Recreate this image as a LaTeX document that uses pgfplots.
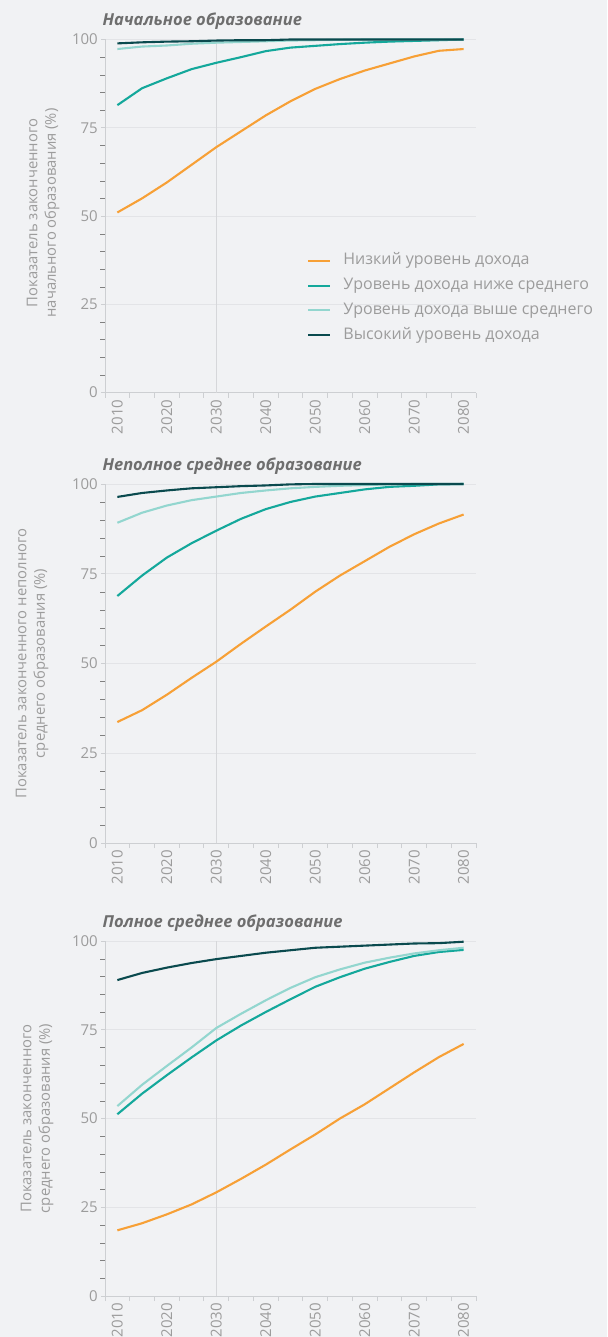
\documentclass[border=0pt]{standalone}
\usepackage{fontspec}
\setmainfont{Open Sans}
\usepackage{pgfplots}
\pgfplotsset{compat=1.18}
\definecolor{bg}{HTML}{F1F2F4}
\definecolor{cLow}{HTML}{F7A036}
\definecolor{cLM}{HTML}{14A89B}
\definecolor{cUM}{HTML}{93D6CF}
\definecolor{cHigh}{HTML}{0A4A4E}
\definecolor{axgray}{HTML}{CDCFD2}
\definecolor{gridgray}{HTML}{E3E4E7}
\definecolor{vgrid}{HTML}{D6D7DA}
\definecolor{txtgray}{HTML}{9C9C9C}
\definecolor{ttlgray}{HTML}{6E6E6E}

\pgfplotstableread{
year low lm um high
2010 51.0 81.4 97.3 98.9
2015 55.0 86.2 98.0 99.2
2020 59.5 89.0 98.3 99.4
2025 64.5 91.6 98.8 99.5
2030 69.5 93.4 99.1 99.7
2035 74.0 95.0 99.3 99.8
2040 78.5 96.7 99.5 99.8
2045 82.5 97.7 99.7 100
2050 86.0 98.2 99.8 100
2055 88.8 98.7 99.9 100
2060 91.2 99.1 100 100
2065 93.2 99.4 100 100
2070 95.2 99.6 100 100
2075 96.8 99.8 100 100
2080 97.3 100 100 100
}\primary

\pgfplotstableread{
year low lm um high
2010 33.7 68.8 89.2 96.4
2015 37.0 74.5 92.0 97.5
2020 41.3 79.5 94.0 98.2
2025 46.0 83.5 95.5 98.8
2030 50.5 87.0 96.5 99.1
2035 55.5 90.3 97.5 99.4
2040 60.3 93.0 98.2 99.6
2045 65.0 95.0 98.8 99.9
2050 70.0 96.5 99.2 100
2055 74.5 97.5 99.5 100
2060 78.5 98.5 99.7 100
2065 82.5 99.2 99.9 100
2070 86.0 99.5 100 100
2075 89.0 99.9 100 100
2080 91.5 100 100 100
}\lowersec

\pgfplotstableread{
year low lm um high
2010 18.5 51.2 53.5 89.0
2015 20.5 57.0 59.5 91.0
2020 23.0 62.2 64.8 92.5
2025 25.8 67.2 70.0 93.8
2030 29.2 72.0 75.5 94.9
2035 33.0 76.2 79.5 95.8
2040 37.0 80.0 83.3 96.7
2045 41.3 83.6 86.8 97.4
2050 45.5 87.1 89.8 98.1
2055 50.0 89.8 92.0 98.4
2060 54.0 92.2 93.9 98.7
2065 58.5 94.1 95.3 99.0
2070 63.0 95.8 96.5 99.3
2075 67.3 96.9 97.4 99.4
2080 71.0 97.5 98.1 99.8
}\uppersec

\pgfplotsset{
  panel/.style={
    scale only axis, width=371pt,
    xmin=2007.5, xmax=2082.5, ymin=0, ymax=100,
    clip=false,
    axis lines*=left,
    axis line style={axgray, line width=0.9pt, -},
    tick align=outside,
    xtick={2010,2020,...,2080},
    minor xtick={2007.5,2012.5,...,2082.5},
    major x tick style={draw=none},
    minor x tick style={axgray, line width=0.9pt},
    minor tick length=5pt,
    ytick={0,25,50,75,100},
    minor ytick={5,10,15,20,30,35,40,45,55,60,65,70,80,85,90,95},
    major y tick style={axgray, line width=0.9pt},
    major tick length=4pt,
    ymajorgrids, major grid style={gridgray, line width=0.9pt},
    extra x ticks={2030}, extra x tick labels={},
    extra x tick style={xmajorgrids=true, major tick length=0pt,
      major grid style={vgrid, line width=0.9pt}},
    /pgf/number format/assume math mode=true,
    /pgf/number format/1000 sep={},
    xticklabel style={rotate=90, anchor=east, font=\fontsize{15}{17}\selectfont, color=txtgray, inner sep=3pt},
    yticklabel style={font=\fontsize{15}{17}\selectfont, color=txtgray, inner sep=3pt},
    title style={at={(axis description cs:0,1)}, anchor=base west, xshift=-6pt, yshift=8pt,
      font=\bfseries\itshape\fontsize{16.5}{18}\selectfont, color=ttlgray},
    every axis plot/.append style={line width=2.1pt, line join=round, no markers},
    every axis y label/.style={rotate=90, anchor=center, align=center,
      font=\fontsize{14.8}{18.5}\selectfont, color=txtgray},
  }
}

\begin{document}
\begin{tikzpicture}
\fill[bg] (0pt,0pt) rectangle (607pt,-1337pt);

\begin{axis}[panel, at={(105pt,-392.5pt)}, anchor=south west, height=353pt,
  title={Начальное образование},
  ylabel={Показатель законченного\\начального образования (\%)},
  ylabel style={at={([xshift=-62pt, yshift=3pt]axis description cs:0,0.5)}},
  legend style={at={(rel axis cs:0.545,0.393)}, anchor=north west, draw=none, fill=none,
    font=\fontsize{16}{18}\selectfont, text=txtgray, row sep=10.5pt, inner sep=0pt,
    nodes={inner xsep=0pt, inner ysep=0pt, text height=11pt, text depth=3.2pt},
    /tikz/every odd column/.style={column sep=12pt}},
  legend cell align=left,
  legend image code/.code={\draw[#1, line width=2pt] (0pt,0pt) -- (22pt,0pt);},
]
\addplot[cLow] table[x=year, y=low] {\primary};
\addlegendentry{Низкий уровень дохода}
\addplot[cLM] table[x=year, y=lm] {\primary};
\addlegendentry{Уровень дохода ниже среднего}
\addplot[cUM] table[x=year, y=um] {\primary};
\addlegendentry{Уровень дохода выше среднего}
\addplot[cHigh] table[x=year, y=high] {\primary};
\addlegendentry{Высокий уровень дохода}
\end{axis}

\begin{axis}[panel, at={(105pt,-843pt)}, anchor=south west, height=359pt,
  title={Неполное среднее образование},
  ylabel={Показатель законченного неполного\\среднего образования (\%)},
  ylabel style={at={([xshift=-73pt]axis description cs:0,0.5)}},
]
\addplot[cLow] table[x=year, y=low] {\lowersec};
\addplot[cLM] table[x=year, y=lm] {\lowersec};
\addplot[cUM] table[x=year, y=um] {\lowersec};
\addplot[cHigh] table[x=year, y=high] {\lowersec};
\end{axis}

\begin{axis}[panel, at={(105pt,-1296pt)}, anchor=south west, height=355pt,
  title={Полное среднее образование},
  ylabel={Показатель законченного\\среднего образования (\%)},
  ylabel style={at={([xshift=-68pt]axis description cs:0,0.5)}},
]
\addplot[cLow] table[x=year, y=low] {\uppersec};
\addplot[cLM] table[x=year, y=lm] {\uppersec};
\addplot[cUM] table[x=year, y=um] {\uppersec};
\addplot[cHigh] table[x=year, y=high] {\uppersec};
\end{axis}

\pgfresetboundingbox
\useasboundingbox (0pt,0pt) rectangle (607pt,-1337pt);
\end{tikzpicture}
\end{document}
